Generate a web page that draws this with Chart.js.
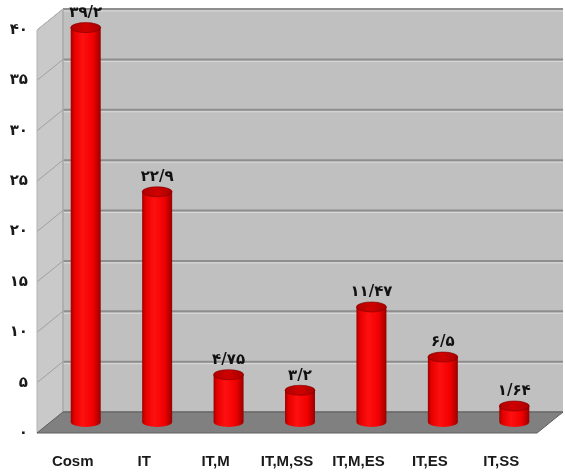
<!DOCTYPE html>
<html>
<head>
<meta charset="utf-8">
<script src="https://cdn.jsdelivr.net/npm/chart.js@4/dist/chart.umd.min.js"></script>
<style>
  html, body { margin: 0; padding: 0; background: #ffffff; }
  #wrap { width: 565px; height: 474px; }
</style>
</head>
<body>
<div id="wrap"><canvas id="chart" width="565" height="474"></canvas></div>
<script>
// Groups and their percentages
const categories = ['Cosm', 'IT', 'IT,M', 'IT,M,SS', 'IT,M,ES', 'IT,ES', 'IT,SS'];
const percentages = [39.2, 22.9, 4.75, 3.2, 11.47, 6.5, 1.64];
const yMin = 0;
const yMax = 40;
const yStep = 5;

// Persian digits, with "/" as the decimal separator
const faDigits = ['۰', '۱', '۲', '۳', '۴', '۵', '۶', '۷', '۸', '۹'];
function toFa(v) {
  return String(v).replace('.', '/').replace(/[0-9]/g, d => faDigits[+d]);
}

// depth of the 3D box (back wall offset from the front plane)
const DX = 26, DY = -21;

const wallsPlugin = {
  id: 'walls',
  beforeDatasetsDraw(chart) {
    const { ctx, chartArea: a, scales: { y } } = chart;
    const L = a.left, R = a.right, T = y.getPixelForValue(yMax), B = y.getPixelForValue(yMin);
    ctx.save();
    // side wall
    ctx.fillStyle = '#c9c9c9';
    ctx.beginPath();
    ctx.moveTo(L, T); ctx.lineTo(L + DX, T + DY); ctx.lineTo(L + DX, B + DY); ctx.lineTo(L, B);
    ctx.closePath(); ctx.fill();
    // back wall
    ctx.fillStyle = '#c0c0c0';
    ctx.fillRect(L + DX, T + DY, R - L, B - T);
    // grid lines on both walls
    for (let v = yMin; v <= yMax; v += yStep) {
      const py = y.getPixelForValue(v);
      ctx.strokeStyle = '#dadada';
      ctx.lineWidth = 1;
      ctx.beginPath();
      ctx.moveTo(L + DX, py + DY + 2); ctx.lineTo(R + DX, py + DY + 2);
      ctx.stroke();
      ctx.strokeStyle = '#8e8e8e';
      ctx.lineWidth = 2;
      ctx.beginPath();
      ctx.moveTo(L + DX, py + DY); ctx.lineTo(R + DX, py + DY);
      ctx.stroke();
      ctx.strokeStyle = '#a0a0a0';
      ctx.lineWidth = 1;
      ctx.beginPath();
      ctx.moveTo(L, py); ctx.lineTo(L + DX, py + DY);
      ctx.stroke();
    }
    // wall edges
    ctx.strokeStyle = '#a8a8a8';
    ctx.lineWidth = 1.5;
    ctx.beginPath();
    ctx.moveTo(L + DX, T + DY); ctx.lineTo(L + DX, B + DY);
    ctx.stroke();
    ctx.strokeStyle = '#b4b4b4';
    ctx.lineWidth = 1;
    ctx.beginPath();
    ctx.moveTo(L, B); ctx.lineTo(L, T); ctx.lineTo(L + DX, T + DY);
    ctx.stroke();
    // floor
    ctx.fillStyle = '#808080';
    ctx.beginPath();
    ctx.moveTo(L, B); ctx.lineTo(R, B); ctx.lineTo(R + DX, B + DY); ctx.lineTo(L + DX, B + DY);
    ctx.closePath(); ctx.fill();
    ctx.strokeStyle = '#5e5e5e';
    ctx.lineWidth = 1;
    ctx.stroke();
    ctx.restore();
  },
  afterDatasetsDraw(chart) {
    const { ctx } = chart;
    const meta = chart.getDatasetMeta(0);
    const ds = chart.data.datasets[0];
    ctx.save();
    meta.data.forEach((bar, i) => {
      const cx = bar.x + DX / 2;
      const top = bar.y + DY / 2;
      const base = bar.base + DY / 2;
      const w = bar.width;
      const rx = w / 2, ry = 5;
      const x0 = cx - rx, x1 = cx + rx;
      // body with horizontal shading
      const g = ctx.createLinearGradient(x0, 0, x1, 0);
      g.addColorStop(0, '#a00000');
      g.addColorStop(0.12, '#e60000');
      g.addColorStop(0.4, '#ff1010');
      g.addColorStop(0.75, '#f00000');
      g.addColorStop(1, '#990000');
      ctx.fillStyle = g;
      ctx.beginPath();
      ctx.moveTo(x0, top);
      ctx.lineTo(x0, base);
      ctx.ellipse(cx, base, rx, ry, 0, Math.PI, 0, true);
      ctx.lineTo(x1, top);
      ctx.closePath();
      ctx.fill();
      // top cap
      const gt = ctx.createLinearGradient(x0, 0, x1, 0);
      gt.addColorStop(0, '#b00000');
      gt.addColorStop(0.5, '#d00000');
      gt.addColorStop(1, '#a80000');
      ctx.fillStyle = gt;
      ctx.beginPath();
      ctx.ellipse(cx, top, rx, ry, 0, 0, Math.PI * 2);
      ctx.fill();
      ctx.strokeStyle = 'rgba(120,0,0,0.6)';
      ctx.lineWidth = 1;
      ctx.stroke();
      // value label
      ctx.fillStyle = '#111111';
      ctx.font = 'bold 15px "DejaVu Sans", sans-serif';
      ctx.textAlign = 'center';
      ctx.textBaseline = 'bottom';
      ctx.fillText(toFa(ds.data[i]), cx, top - ry - 2);
    });
    ctx.restore();
  }
};

new Chart(document.getElementById('chart'), {
  type: 'bar',
  data: {
    labels: categories,
    datasets: [{
      data: percentages,
      backgroundColor: 'rgba(0,0,0,0)',
      borderWidth: 0,
      categoryPercentage: 1,
      barPercentage: 0.42
    }]
  },
  options: {
    responsive: false,
    animation: false,
    events: [],
    layout: { padding: { top: 30, right: 28, bottom: 3, left: 0 } },
    plugins: { legend: { display: false }, tooltip: { enabled: false } },
    scales: {
      x: {
        afterFit(scale) { scale.height = 38; },
        grid: { display: false, drawTicks: false },
        border: { display: false },
        ticks: {
          color: '#1a1a1a',
          padding: 20,
          maxRotation: 0,
          autoSkip: false,
          font: { family: '"Liberation Sans", Arial, sans-serif', size: 15, weight: 'bold' }
        }
      },
      y: {
        min: yMin,
        max: yMax,
        afterFit(scale) { scale.width = 37; },
        grid: { drawOnChartArea: false, drawTicks: false },
        border: { display: false },
        ticks: {
          stepSize: yStep,
          padding: 9,
          color: '#1a1a1a',
          font: { family: '"DejaVu Sans", sans-serif', size: 15, weight: 'bold' },
          callback: v => toFa(v)
        }
      }
    }
  },
  plugins: [wallsPlugin]
});
</script>
</body>
</html>
